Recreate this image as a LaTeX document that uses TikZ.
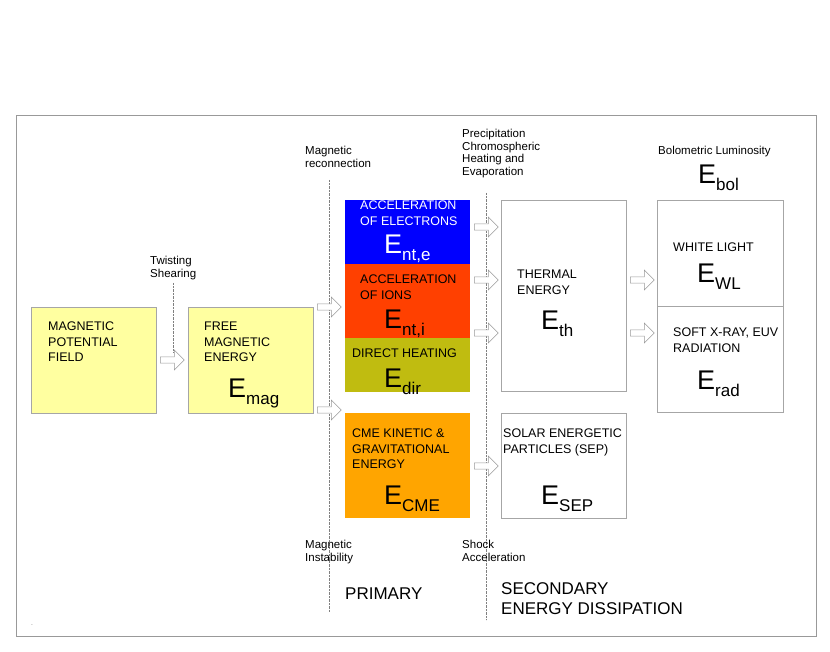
\documentclass[tikz,border=0pt]{standalone}
\usepackage{fontspec}
\setmainfont{Liberation Sans}
\usetikzlibrary{shapes.arrows}
\definecolor{padyellow}{RGB}{255,255,160}
\definecolor{elecblue}{RGB}{0,0,255}
\definecolor{ionred}{RGB}{255,64,0}
\definecolor{heatolive}{RGB}{192,188,16}
\definecolor{cmeorange}{RGB}{255,165,0}
\newcommand{\Elab}[1]{{\fontsize{27}{27}\selectfont E}\raisebox{-7pt}{\fontsize{17}{17}\selectfont #1}}
\tikzset{
	box/.style={draw=gray!70, line width=0.8pt, anchor=north west, inner sep=0pt},
	caps/.style={anchor=north west, align=left, inner sep=0pt, font=\fontsize{12.5}{15.5}\selectfont},
	note/.style={anchor=north west, align=left, inner sep=0pt, font=\fontsize{11.5}{12.5}\selectfont},
	big/.style={anchor=base west, inner sep=0pt, font=\fontsize{17}{20}\selectfont},
	energy/.style={anchor=base west, inner sep=0pt},
	flow/.style={single arrow, draw=gray!80, fill=white, line width=0.6pt, minimum height=24pt, minimum width=20pt, single arrow head extend=5pt, inner sep=2pt, anchor=west},
	guide/.style={densely dotted, gray}
}
\begin{document}
\begin{tikzpicture}[x=1pt, y=-1pt]
\useasboundingbox (0,0) rectangle (830,652);
\draw[gray!80, line width=0.8pt] (16,115) rectangle (816,636);
\node at (32,625) {\tiny .};

% guide lines and their labels
\coordinate (g1a) at (173,283); \coordinate (g1b) at (173,352);
\coordinate (g2a) at (329,180); \coordinate (g2b) at (329,612);
\coordinate (g3a) at (486,193); \coordinate (g3b) at (486,620);
\draw[guide] (g1a) -- (g1b);
\draw[guide] (g2a) -- (g2b);
\draw[guide] (g3a) -- (g3b);
\node[note] (twist) at (150,256) {Twisting\\Shearing};
\node[note] (recon) at (305,146) {Magnetic\\reconnection};
\node[note] (instab) at (305,540) {Magnetic\\Instability};
\node[note] (precip) at (462,129) {Precipitation\\Chromospheric\\Heating and\\Evaporation};
\node[note] (shock) at (462,540) {Shock\\Acceleration};
\node[note] (bolo) at (658,146) {Bolometric Luminosity};
\node[energy] (Ebol) at (698,184) {\Elab{bol}};

% boxes
\node[box, fill=padyellow, minimum width=125pt, minimum height=106pt] (pot) at (31,307) {};
\node[caps] at (48,322) {MAGNETIC\\POTENTIAL\\FIELD};
\node[box, fill=padyellow, minimum width=125pt, minimum height=106pt] (free) at (188,307) {};
\node[caps] at (204,322) {FREE\\MAGNETIC\\ENERGY};
\node[energy] at (228,397) {\Elab{mag}};

\node[box, draw=none, fill=elecblue, minimum width=125pt, minimum height=64pt] (elec) at (345,200) {};
\node[caps, text=white] at (360,201) {ACCELERATION\\OF ELECTRONS};
\node[energy, text=white] at (384,254) {\Elab{nt,e}};
\node[box, draw=none, fill=ionred, minimum width=125pt, minimum height=74pt] (ions) at (345,264) {};
\node[caps] at (360,275) {ACCELERATION\\OF IONS};
\node[energy] at (384,328) {\Elab{nt,i}};
\node[box, draw=none, fill=heatolive, minimum width=125pt, minimum height=54pt] (dir) at (345,338) {};
\node[caps] at (352,349) {DIRECT HEATING};
\node[energy] at (384,387) {\Elab{dir}};
\node[box, draw=none, fill=cmeorange, minimum width=125pt, minimum height=105pt] (cme) at (345,413) {};
\node[caps] at (352,429) {CME KINETIC \&\\GRAVITATIONAL\\ENERGY};
\node[energy] at (384,504) {\Elab{CME}};

\node[box, fill=white, minimum width=125pt, minimum height=191pt] (therm) at (501,200) {};
\node[caps] at (517,270) {THERMAL\\ENERGY};
\node[energy] at (541,330) {\Elab{th}};
\node[box, fill=white, minimum width=125pt, minimum height=105pt] (sep) at (501,413) {};
\node[caps] at (503,429) {SOLAR ENERGETIC\\PARTICLES (SEP)};
\node[energy] at (541,504) {\Elab{SEP}};

\node[box, fill=white, minimum width=126pt, minimum height=106pt] (wl) at (657,200) {};
\node[caps] at (673,243) {WHITE LIGHT};
\node[energy] at (697,283) {\Elab{WL}};
\node[box, fill=white, minimum width=126pt, minimum height=106pt] (rad) at (657,306) {};
\node[caps] at (673,328) {SOFT X-RAY, EUV\\RADIATION};
\node[energy] at (697,389) {\Elab{rad}};

% flow arrows
\node[flow] (a1) at (160,360) {};
\node[flow] (a2) at (317,307) {};
\node[flow] (a3) at (317,410) {};
\node[flow] (a4) at (474,227) {};
\node[flow] (a5) at (474,280) {};
\node[flow] (a6) at (474,333) {};
\node[flow] (a7) at (474,466) {};
\node[flow] (a8) at (630,280) {};
\node[flow] (a9) at (630,333) {};

% bottom labels
\node[big] (prim) at (345,599) {PRIMARY};
\node[big, align=left, anchor=north west] (sec) at (501,582) {SECONDARY\\ENERGY DISSIPATION};
\end{tikzpicture}
\end{document}
